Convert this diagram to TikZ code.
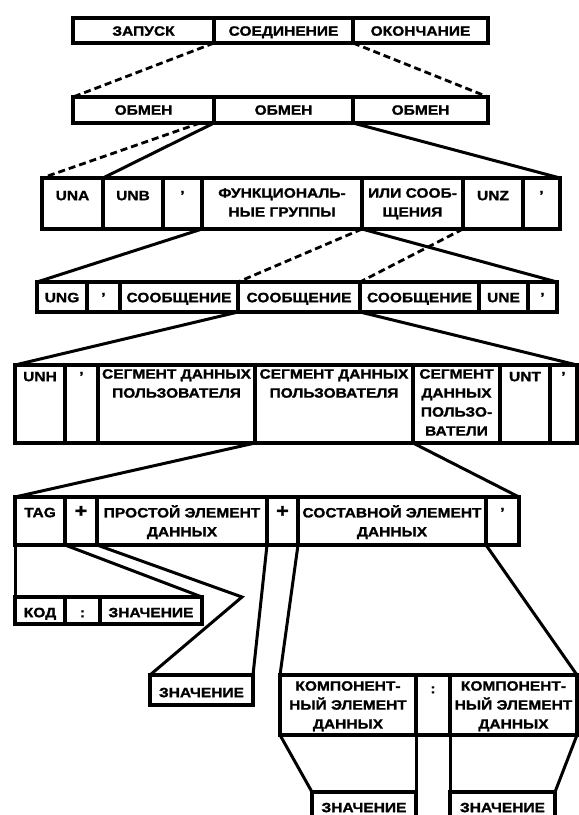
\documentclass[tikz,border=0pt]{standalone}
\usepackage{fontspec}
\newfontfamily\lbl{Liberation Sans}[FakeStretch=1.15, FakeBold=1.3]
\usetikzlibrary{calc}
\tikzset{
 cellbox/.style={draw, line width=3.3pt, inner sep=0pt, outer sep=0pt},
 celltext/.style={font=\lbl\bfseries\fontsize{13.5}{19}\selectfont, align=center, inner sep=0pt, execute at begin node={\rule{0pt}{12pt}}},
 conn/.style={line width=3pt},
 dconn/.style={line width=2.8pt, dash pattern=on 7pt off 4pt},
}
\newcommand\cell[7]{%
  \pgfmathsetmacro\cw{#3-#2}%
  \pgfmathsetmacro\ch{#5-#4}%
  \node[cellbox, minimum width=\cw pt, minimum height=\ch pt, anchor=north west] (#1) at (#2,#4) {};
  \node[celltext, anchor=north] (#1t) at ($(#1.north)+(0,#6-12)$) {#7};
}
\newcommand\bigplus{{\fontsize{19}{19}\selectfont +}}
\begin{document}
\begin{tikzpicture}[x=1pt,y=-1pt]
\fill[white] (0,0) rectangle (579,815);
\useasboundingbox (0,0) rectangle (579,815);
% row 1
\cell{r1a}{73}{214}{18}{43}{17.5}{ЗАПУСК}
\cell{r1b}{214}{353}{18}{43}{17.5}{СОЕДИНЕНИЕ}
\cell{r1c}{353}{488}{18}{43}{17.5}{ОКОНЧАНИЕ}
% row 2
\cell{r2a}{73}{214}{97}{123}{17.5}{ОБМЕН}
\cell{r2b}{214}{353}{97}{123}{17.5}{ОБМЕН}
\cell{r2c}{353}{488}{97}{123}{17.5}{ОБМЕН}
% row 3
\cell{r3a}{42}{103}{178}{229}{22}{UNA}
\cell{r3b}{103}{163}{178}{229}{22}{UNB}
\cell{r3c}{163}{202}{178}{229}{22}{’}
\cell{r3d}{202}{362}{178}{229}{22}{ФУНКЦИОНАЛЬ-\\НЫЕ ГРУППЫ}
\cell{r3e}{362}{463}{178}{229}{22}{ИЛИ СООБ-\\ЩЕНИЯ}
\cell{r3f}{463}{523}{178}{229}{22}{UNZ}
\cell{r3g}{523}{560}{178}{229}{22}{’}
% row 4
\cell{r4a}{37}{87}{282}{312}{20}{UNG}
\cell{r4b}{87}{120}{282}{312}{20}{’}
\cell{r4c}{120}{238}{282}{312}{20}{СООБЩЕНИЕ}
\cell{r4d}{238}{360}{282}{312}{20}{СООБЩЕНИЕ}
\cell{r4e}{360}{479}{282}{312}{20}{СООБЩЕНИЕ}
\cell{r4f}{479}{528}{282}{312}{20}{UNE}
\cell{r4g}{528}{557}{282}{312}{20}{’}
% row 5
\cell{r5a}{15}{65}{365}{443}{16}{UNH}
\cell{r5b}{65}{98}{365}{443}{16}{’}
\cell{r5c}{98}{255}{365}{443}{16}{СЕГМЕНТ ДАННЫХ\\ПОЛЬЗОВАТЕЛЯ}
\cell{r5d}{255}{413}{365}{443}{16}{СЕГМЕНТ ДАННЫХ\\ПОЛЬЗОВАТЕЛЯ}
\cell{r5e}{413}{500}{365}{443}{16}{СЕГМЕНТ\\ДАННЫХ\\ПОЛЬЗО-\\ВАТЕЛИ}
\cell{r5f}{500}{550}{365}{443}{16}{UNT}
\cell{r5g}{550}{577}{365}{443}{16}{’}
% row 6
\cell{r6a}{15}{65}{497}{545}{20}{TAG}
\cell{r6b}{65}{97}{497}{545}{20}{\bigplus}
\cell{r6c}{97}{267}{497}{545}{20}{ПРОСТОЙ ЭЛЕМЕНТ\\ДАННЫХ}
\cell{r6d}{267}{298}{497}{545}{20}{\bigplus}
\cell{r6e}{298}{486}{497}{545}{20}{СОСТАВНОЙ ЭЛЕМЕНТ\\ДАННЫХ}
\cell{r6f}{486}{519}{497}{545}{20}{’}
% row 7
\cell{r7a}{15}{65}{597}{624}{20}{КОД}
\cell{r7b}{65}{100}{597}{624}{20}{:}
\cell{r7c}{100}{202}{597}{624}{20}{ЗНАЧЕНИЕ}
% value box
\cell{r8}{150}{253}{675}{705}{22}{ЗНАЧЕНИЕ}
% row 9
\cell{r9a}{280}{416}{675}{735}{18}{КОМПОНЕНТ-\\НЫЙ ЭЛЕМЕНТ\\ДАННЫХ}
\cell{r9b}{416}{450}{675}{735}{18}{:}
\cell{r9c}{450}{577}{675}{735}{18}{КОМПОНЕНТ-\\НЫЙ ЭЛЕМЕНТ\\ДАННЫХ}
% row 10
\cell{r10a}{312}{416}{792}{835}{20}{ЗНАЧЕНИЕ}
\cell{r10b}{450}{555}{792}{835}{20}{ЗНАЧЕНИЕ}
% connectors
\draw[dconn] (r1a.south east) -- (r2a.north west);
\draw[dconn] (r1b.south east) -- (r2c.north east);
\coordinate (d23) at (200,123);
\draw[dconn] (d23) -- (r3a.north west);
\draw[conn] (r2a.south east) -- (r3a.north east);
\draw[conn] (r2b.south east) -- (r3g.north east);
\draw[conn] (r3c.south east) -- (r4a.north west);
\draw[dconn] (r3d.south east) -- (r4c.north east);
\draw[conn] (r3d.south east) -- (r4g.north east);
\draw[dconn] (r3e.south east) -- (r4d.north east);
\draw[conn] (r4c.south east) -- (r5a.north west);
\draw[conn] (r4d.south east) -- (r5g.north east);
\draw[conn] (r5c.south east) -- (r6a.north west);
\draw[conn] (r5d.south east) -- (r6f.north east);
\draw[conn] (r6a.south west) -- (r7a.north west);
\draw[conn] (r6a.south east) -- (r7c.north east);
\coordinate (kink) at (242,597);
\draw[conn] (r6c.south west) -- (kink) -- (r8.north west);
\draw[conn] (r6c.south east) -- (r8.north east);
\draw[conn] (r6d.south east) -- (r9a.north west);
\draw[conn] (r6e.south east) -- (r9c.north east);
\draw[conn] (r9a.south west) -- (r10a.north west);
\draw[conn] (r9a.south east) -- (r10a.north east);
\draw[conn] (r9c.south west) -- (r10b.north west);
\draw[conn] (r9c.south east) -- (r10b.north east);
\end{tikzpicture}
\end{document}
